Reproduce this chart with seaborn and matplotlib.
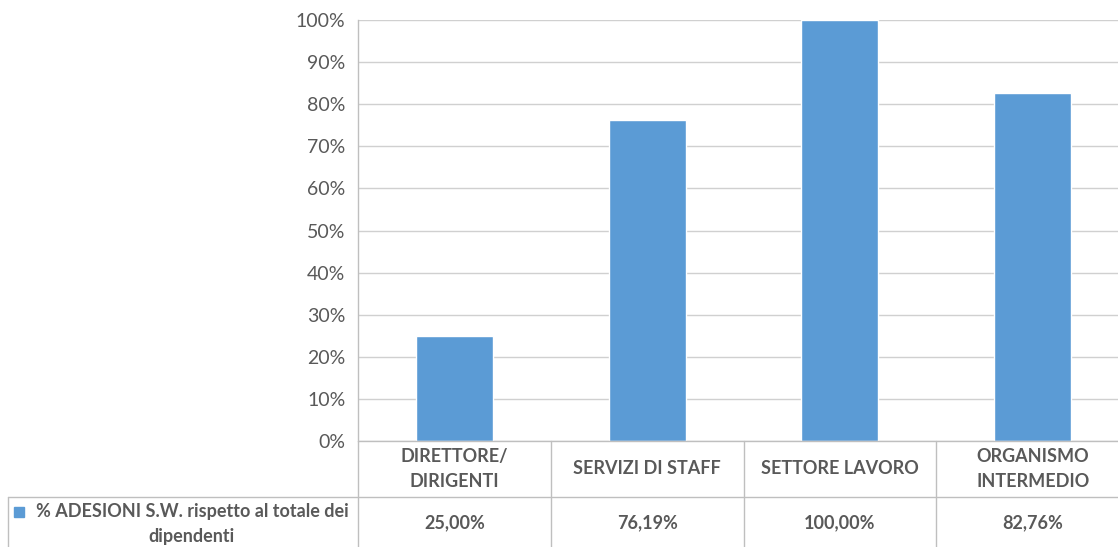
import matplotlib
matplotlib.use("Agg")
import matplotlib.pyplot as plt
import matplotlib.transforms as mtransforms
from matplotlib.patches import Rectangle
import seaborn as sns
import pandas as pd

categories = ["DIRETTORE/\nDIRIGENTI", "SERVIZI DI STAFF", "SETTORE LAVORO", "ORGANISMO\nINTERMEDIO"]
values = [25.00, 76.19, 100.00, 82.76]
value_labels = ["25,00%", "76,19%", "100,00%", "82,76%"]
series_name = "% ADESIONI S.W. rispetto al totale dei\ndipendenti"
yticks = [0, 10, 20, 30, 40, 50, 60, 70, 80, 90, 100]

sns.set_theme(style="white")
plt.rcParams['font.family'] = ['Lato', 'DejaVu Sans']

W, H = 1118, 547
fig = plt.figure(figsize=(W / 100, H / 100), dpi=100)
left_px, right_px, top_px, bottom_px = 358, 1129, 20, 441
ax = fig.add_axes([left_px / W, 1 - bottom_px / H, (right_px - left_px) / W, (bottom_px - top_px) / H])

df = pd.DataFrame({"cat": categories, "val": values})
bar_color = "#5B9BD5"
sns.barplot(data=df, x="cat", y="val", color=bar_color, width=0.4, ax=ax, saturation=1, zorder=3)

grid_c = "#D0D0D0"
line_c = "#BFBFBF"
text_c = "#595959"

ax.set_xlim(-0.5, 3.5)
ax.set_ylim(0, 100)
ax.set_yticks(yticks)
ax.set_yticklabels([f"{t}%" for t in yticks], color=text_c, fontsize=14)
ax.tick_params(axis="y", length=0, pad=9)
ax.set_xticks([])
ax.set_xlabel("")
ax.set_ylabel("")
ax.yaxis.grid(True, color=grid_c, linewidth=1, zorder=0)
ax.set_axisbelow(True)
for s in ["top", "right", "bottom"]:
    ax.spines[s].set_visible(False)
ax.spines["left"].set_color(line_c)
ax.spines["left"].set_linewidth(1)

# Data table below the plot
trans = mtransforms.blended_transform_factory(ax.transData, fig.transFigure)
def fy(px):
    return 1 - px / H

row1_top, row1_bot, row2_bot = 441, 497, 547
fig.add_artist(plt.Line2D([left_px / W, 1], [fy(row1_top)] * 2, transform=fig.transFigure, color=line_c, lw=1))
fig.add_artist(plt.Line2D([8 / W, 1], [fy(row1_bot)] * 2, transform=fig.transFigure, color=line_c, lw=1))
for i in range(len(categories) + 1):
    x = i - 0.5
    ax.plot([x, x], [fy(row1_top), fy(row2_bot)], transform=trans, color=line_c, lw=1, clip_on=False)
fig.add_artist(plt.Line2D([8 / W, 8 / W], [fy(row1_bot), fy(row2_bot)], transform=fig.transFigure, color=line_c, lw=1))

for i, (c, v) in enumerate(zip(categories, value_labels)):
    ax.text(i, fy(469), c, transform=trans, ha="center", va="center",
            fontsize=13, fontweight="bold", color=text_c, linespacing=1.6, clip_on=False)
    ax.text(i, fy(523), v, transform=trans, ha="center", va="center",
            fontsize=13, fontweight="bold", color=text_c, clip_on=False)

# legend cell
fig.add_artist(Rectangle((14 / W, fy(517)), 10 / W, 10 / H, transform=fig.transFigure, color=bar_color))
fig.text(192 / W, fy(524), series_name, ha="center", va="center",
         fontsize=13, fontweight="bold", color=text_c, linespacing=1.6)

fig.savefig("out.png", dpi=100)
